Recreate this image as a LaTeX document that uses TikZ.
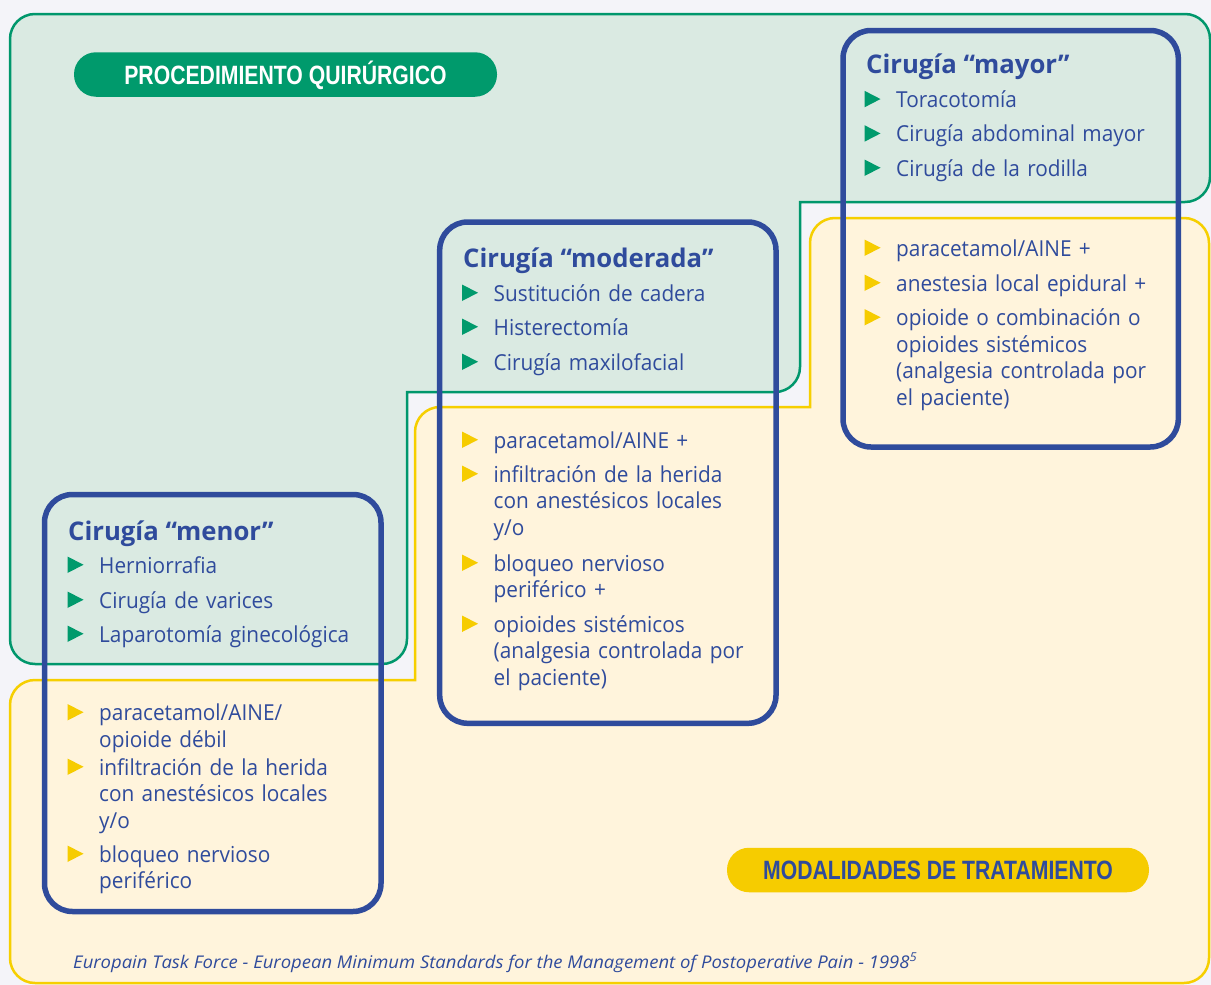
\documentclass[tikz,border=0pt]{standalone}
\usepackage{fontspec}
\setmainfont{Open Sans}
\newfontfamily\itemfont{Open Sans}[FakeStretch=0.945]
\newfontfamily\citefont{Open Sans}[FakeStretch=1.056]
\newfontfamily\condfont{Liberation Sans}[FakeStretch=0.8]
\definecolor{bgc}{HTML}{F4F4F9}
\definecolor{gfill}{HTML}{DAEAE2}
\definecolor{gline}{HTML}{00976C}
\definecolor{yfill}{HTML}{FFF4DC}
\definecolor{yline}{HTML}{F6CF00}
\definecolor{navy}{HTML}{2F4B9C}
\definecolor{gtri}{HTML}{009A6C}
\definecolor{ytri}{HTML}{F6CC00}
\tikzset{
  itemtxt/.style={anchor=base west, inner sep=0pt, text width=330pt, align=left, text=navy,
    font=\fontsize{22}{26.7}\selectfont\itemfont},
  ttl/.style={anchor=base west, inner sep=0pt, text=navy, font=\fontsize{25.7}{30}\selectfont\bfseries},
  catbox/.style={draw=navy, line width=5.5pt, rounded corners=28pt},
  pill/.style={rounded corners=22pt, inner sep=0pt, minimum height=44.5pt, text height=19pt, text depth=0pt,
    font=\fontsize{26.5}{30}\selectfont\condfont\bfseries},
  stair/.style={line width=2.5pt}
}
\newcommand\bitem[5]{%
  \node[itemtxt] (#1) at (#3,#4) {#5};
  \fill[#2] ([shift={(-31.5,-16.5)}]#1.base west) -- ([shift={(-15.5,-8.25)}]#1.base west) -- ([shift={(-31.5,0)}]#1.base west) -- cycle;
}
\begin{document}
\begin{tikzpicture}[x=1pt,y=-1pt]
\useasboundingbox (0,0) rectangle (1211,985);
\fill[bgc] (0,0) rectangle (1211,985);
% green staircase (surgical procedure)
\draw[stair, draw=gline, fill=gfill] (10,39) arc[start angle=180, end angle=270, radius=25]
  -- (1185,14) arc[start angle=270, end angle=360, radius=25]
  -- (1210,177) arc[start angle=0, end angle=90, radius=25]
  -- (800,202) -- (800,367) arc[start angle=0, end angle=90, radius=25]
  -- (407,392) -- (407,639) arc[start angle=0, end angle=90, radius=25]
  -- (35,664) arc[start angle=90, end angle=180, radius=25] -- cycle;
% yellow staircase (treatment modalities)
\draw[stair, draw=yline, fill=yfill] (10,705) arc[start angle=180, end angle=270, radius=25]
  -- (415,680) -- (415,432) arc[start angle=180, end angle=270, radius=25]
  -- (810,407) -- (810,243) arc[start angle=180, end angle=270, radius=25]
  -- (1184,218) arc[start angle=270, end angle=360, radius=25]
  -- (1209,958) arc[start angle=0, end angle=90, radius=25]
  -- (35,983) arc[start angle=90, end angle=180, radius=25] -- cycle;
% labels
\node[pill, fill=gtri, text=white, minimum width=423pt] (proc) at (285.5,74.5) {PROCEDIMIENTO QUIRÚRGICO};
\node[pill, fill=ytri, text=navy, minimum width=422pt] (moda) at (938,870) {MODALIDADES DE TRATAMIENTO};
% category boxes
\draw[catbox] (843,30.5) rectangle (1178.3,447);
\draw[catbox] (439.7,222) rectangle (776,723.3);
\draw[catbox] (44.5,494.5) rectangle (381,911.5);
% mayor
\node[ttl] (tmay) at (866,73) {Cirugía “mayor”};
\bitem{m1}{gtri}{896}{107.3}{Toracotomía}
\bitem{m2}{gtri}{896}{141.7}{Cirugía abdominal mayor}
\bitem{m3}{gtri}{896}{176}{Cirugía de la rodilla}
\bitem{my1}{ytri}{896}{256}{paracetamol/AINE +}
\bitem{my2}{ytri}{896}{291}{anestesia local epidural +}
\bitem{my3}{ytri}{896}{325.5}{opioide o combinación o\\ opioides sistémicos\\ (analgesia controlada por\\ el paciente)}
% moderada
\node[ttl] (tmod) at (463,267) {Cirugía “moderada”};
\bitem{d1}{gtri}{493.5}{301}{Sustitución de cadera}
\bitem{d2}{gtri}{493.5}{335}{Histerectomía}
\bitem{d3}{gtri}{493.5}{370}{Cirugía maxilofacial}
\bitem{dy1}{ytri}{493.5}{448}{paracetamol/AINE +}
\bitem{dy2}{ytri}{493.5}{482}{infiltración de la herida\\ con anestésicos locales\\ y/o}
\bitem{dy3}{ytri}{493.5}{571}{bloqueo nervioso\\ periférico +}
\bitem{dy4}{ytri}{493.5}{632}{opioides sistémicos\\ (analgesia controlada por\\ el paciente)}
% menor
\node[ttl] (tmen) at (68,540) {Cirugía “menor”};
\bitem{n1}{gtri}{99}{573}{Herniorrafia}
\bitem{n2}{gtri}{99}{608}{Cirugía de varices}
\bitem{n3}{gtri}{99}{642}{Laparotomía ginecológica}
\bitem{ny1}{ytri}{99}{720.5}{paracetamol/AINE/\\ opioide débil}
\bitem{ny2}{ytri}{99}{775}{infiltración de la herida\\ con anestésicos locales\\ y/o}
\bitem{ny3}{ytri}{99}{862}{bloqueo nervioso\\ periférico}
% source
\node[anchor=base west, inner sep=0pt, text=navy, font=\fontsize{17.5}{20}\selectfont\citefont\itshape] (cite) at (73,968)
  {Europain Task Force - European Minimum Standards for the Management of Postoperative Pain - 1998\textsuperscript{5}};
\end{tikzpicture}
\end{document}
